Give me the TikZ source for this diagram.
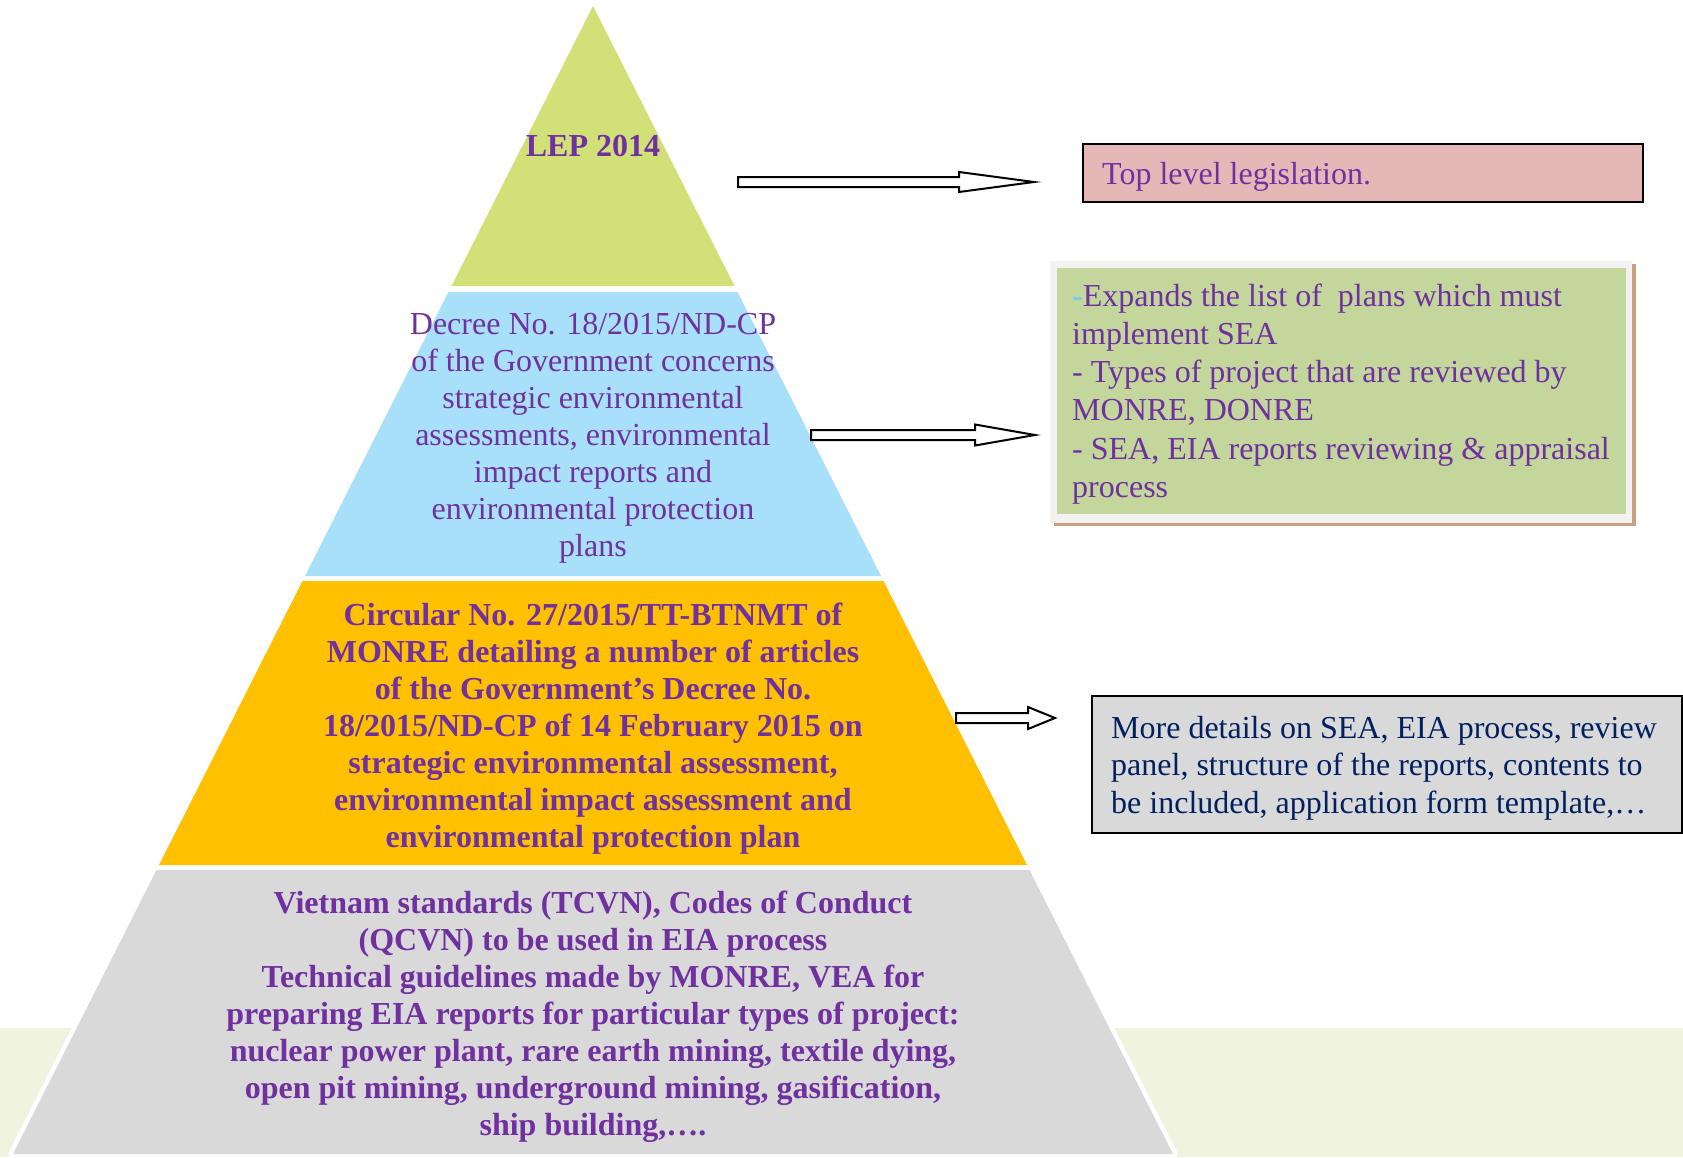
\documentclass[tikz,border=0pt]{standalone}
\usepackage{fontspec}
\setmainfont{Liberation Serif}
\usetikzlibrary{calc}
\definecolor{txtpurple}{RGB}{112,48,160}
\definecolor{navytxt}{RGB}{0,32,96}
\definecolor{laygreen}{RGB}{209,224,119}
\definecolor{layblue}{RGB}{167,224,248}
\definecolor{layorange}{RGB}{255,192,0}
\definecolor{laygray}{RGB}{217,217,217}
\definecolor{stripgreen}{RGB}{240,244,222}
\definecolor{pinkbox}{RGB}{229,184,183}
\definecolor{greenbox}{RGB}{195,214,155}
\definecolor{framegray}{RGB}{242,242,242}
\definecolor{shadowbrown}{RGB}{201,160,126}
\definecolor{dashblue}{RGB}{102,204,255}
\newcommand{\blockarr}[5]{%
  \draw[barrow] ($(#1)+(0,-#4)$) -- ($(#2)+(-#3,-#4)$) -- ($(#2)+(-#3,-#5)$) -- (#2)
    -- ($(#2)+(-#3,#5)$) -- ($(#2)+(-#3,#4)$) -- ($(#1)+(0,#4)$) -- cycle;}
\begin{document}
\begin{tikzpicture}[x=1pt,y=-1pt,
  laytext/.style={font=\fontsize{32}{37}\selectfont, text=txtpurple, align=center, inner sep=0},
  laybold/.style={font=\fontsize{32}{37}\selectfont\bfseries, text=txtpurple, align=center, inner sep=0},
  boxtext/.style={inner sep=0, align=left, anchor=west},
  barrow/.style={draw=black, fill=white, line width=2, line join=miter},
  framebox/.style={draw=black, line width=2, inner sep=0, anchor=north west}]
\useasboundingbox (0,0) rectangle (1683,1157);
\fill[white] (0,0) rectangle (1683,1157);
% background strip
\fill[stripgreen] (0,1028) rectangle (1683,1157);
% white backing of pyramid
\draw[white, fill=white, line width=9, line join=round] (593,6) -- (13,1154) -- (1173,1154) -- cycle;
% layers
\fill[laygreen] (593,6) -- (451.5,286) -- (734.5,286) -- cycle;
\fill[layblue] (448.5,292) -- (737.5,292) -- (881,576) -- (305,576) -- cycle;
\fill[layorange] (302.5,581) -- (883.5,581) -- (1027,865) -- (159,865) -- cycle;
\fill[laygray] (156.5,870) -- (1029.5,870) -- (1173,1154) -- (13,1154) -- cycle;
% layer texts
\node[laybold] (lep) at (593,146) {LEP 2014};
\node[laytext] (decree) at (593,438) {Decree No. 18/2015/ND-CP\\of the Government concerns\\strategic environmental\\assessments, environmental\\impact reports and\\environmental protection\\plans};
\node[laybold] (circular) at (593,729) {Circular No. 27/2015/TT-BTNMT of\\MONRE detailing a number of articles\\of the Government’s Decree No.\\18/2015/ND-CP of 14 February 2015 on\\strategic environmental assessment,\\environmental impact assessment and\\environmental protection plan};
\node[laybold] (standards) at (593,1017) {Vietnam standards (TCVN), Codes of Conduct\\(QCVN) to be used in EIA process\\Technical guidelines made by MONRE, VEA for\\preparing EIA reports for particular types of project:\\nuclear power plant, rare earth mining, textile dying,\\open pit mining, underground mining, gasification,\\ship building,….};
% box 1
\node[framebox, fill=pinkbox, minimum width=560, minimum height=58] (box1) at (1082,143) {};
\node[boxtext, font=\fontsize{32}{37}\selectfont, text=txtpurple] (box1t) at (1102,177) {Top level legislation.};
% box 2
\fill[shadowbrown] (1054,264) rectangle (1636,526);
\fill[framegray] (1050,261) rectangle (1632,523);
\node[fill=greenbox, inner sep=0, minimum width=569, minimum height=246, anchor=north west] (box2) at (1057,268) {};
\node[boxtext, font=\fontsize{32}{38.2}\selectfont, text=txtpurple] (box2t) at (1072,394) {{\color{dashblue}-}Expands the list of~ plans which must\\implement SEA\\- Types of project that are reviewed by\\MONRE, DONRE\\- SEA, EIA reports reviewing \& appraisal\\process};
% box 3
\node[framebox, fill=laygray, minimum width=590, minimum height=137] (box3) at (1091,695) {};
\node[boxtext, font=\fontsize{32}{37.5}\selectfont, text=navytxt] (box3t) at (1111,768) {More details on SEA, EIA process, review\\panel, structure of the reports, contents to\\be included, application form template,…};
% arrows
\coordinate (a1tail) at (738,182);
\coordinate (a1tip) at (1034,182);
\coordinate (a2tail) at (811,435);
\coordinate (a2tip) at (1035,435);
\coordinate (a3tail) at (956,718);
\coordinate (a3tip) at (1055,718);
\blockarr{a1tail}{a1tip}{75}{5}{10}
\blockarr{a2tail}{a2tip}{60}{5}{10.5}
\blockarr{a3tail}{a3tip}{27}{5}{11}
\end{tikzpicture}
\end{document}
